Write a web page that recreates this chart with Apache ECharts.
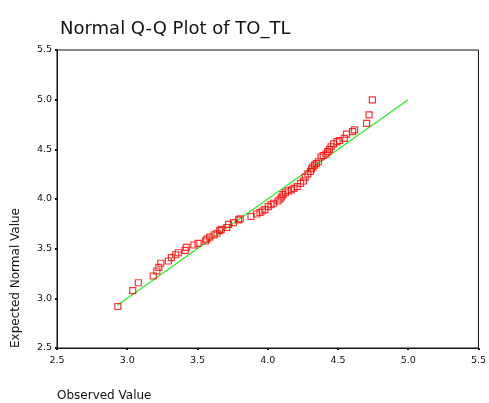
<!DOCTYPE html>
<html>
<head>
<meta charset="utf-8">
<script src="https://cdn.jsdelivr.net/npm/echarts@6/dist/echarts.min.js"></script>
<style>html,body{margin:0;padding:0;background:#fff;}#c{width:489px;height:403px;}</style>
</head>
<body>
<div id="c"></div>
<script>
var observed = [2.933,3.039,3.079,3.185,3.211,3.225,3.239,3.293,3.314,3.345,3.363,3.413,3.420,3.474,3.504,3.557,3.566,3.587,3.619,3.639,3.658,3.670,3.709,3.721,3.756,3.792,3.804,3.881,3.921,3.945,3.961,3.980,4.004,4.023,4.042,4.074,4.088,4.099,4.109,4.126,4.145,4.169,4.187,4.210,4.234,4.254,4.267,4.286,4.304,4.311,4.321,4.333,4.346,4.361,4.380,4.395,4.415,4.427,4.439,4.451,4.469,4.493,4.512,4.545,4.561,4.604,4.618,4.704,4.721,4.745];
var expected = [2.918,3.077,3.157,3.225,3.275,3.312,3.353,3.376,3.409,3.439,3.459,3.483,3.514,3.537,3.554,3.577,3.597,3.617,3.638,3.655,3.681,3.695,3.713,3.745,3.763,3.789,3.799,3.824,3.849,3.864,3.879,3.894,3.924,3.943,3.957,3.980,4.000,4.020,4.045,4.063,4.081,4.091,4.106,4.124,4.158,4.181,4.221,4.252,4.277,4.302,4.322,4.342,4.357,4.375,4.423,4.438,4.453,4.476,4.500,4.526,4.554,4.577,4.589,4.611,4.654,4.679,4.695,4.762,4.846,4.997];
var refLineX = [2.93, 5.0];
var refLineY = [2.93, 5.0];
var xTicks = [2.5, 3.0, 3.5, 4.0, 4.5, 5.0, 5.5];
var yTicks = [2.5, 3.0, 3.5, 4.0, 4.5, 5.0, 5.5];

var pts = observed.map(function(v,i){return [v, expected[i]];});
var linePts = refLineX.map(function(v,i){return [v, refLineY[i]];});

var chart = echarts.init(document.getElementById('c'), null, {renderer:'canvas'});
var font = 'Tahoma, "DejaVu Sans", Verdana, sans-serif';
function axisCommon(ticks){
  return {
    type:'value', min:ticks[0], max:ticks[ticks.length-1], interval:0.5,
    axisLine:{show:true, onZero:false, lineStyle:{color:'#111', width:1}},
    axisTick:{show:true, inside:false, length:2, lineStyle:{color:'#111', width:2}},
    splitLine:{show:false},
    axisLabel:{color:'#111', fontSize:9.5, fontFamily:font, formatter:function(v){return v.toFixed(1);}}
  };
}
var xa = axisCommon(xTicks); xa.axisLabel.margin = 8;
var ya = axisCommon(yTicks); ya.axisLabel.margin = 5;
chart.setOption({
  animation:false,
  backgroundColor:'#fff',
  title:{text:'Normal Q-Q Plot of TO_TL', left:55, top:15,
    textStyle:{fontFamily:font, fontSize:18, fontWeight:'normal', color:'#111'}},
  grid:{left:57, top:50, right:7, bottom:55, show:true, borderColor:'#111', borderWidth:1, backgroundColor:'transparent'},
  xAxis:xa,
  yAxis:ya,
  graphic:[
    {type:'text', left:57, top:390, style:{text:'Observed Value', font:'12px '+font, fill:'#111'}},
    {type:'text', x:10, y:348, rotation:Math.PI/2, style:{text:'Expected Normal Value', font:'12px '+font, fill:'#111', textAlign:'left', textVerticalAlign:'top'}}
  ],
  series:[
    {type:'line', data:linePts, symbol:'none', lineStyle:{color:'#22ee22', width:1.2}, z:2},
    {type:'scatter', data:pts, symbol:'rect', symbolSize:6,
      itemStyle:{color:'rgba(0,0,0,0)', borderColor:'#ff0000', borderWidth:1.2}, z:3}
  ]
});
</script>
</body>
</html>
